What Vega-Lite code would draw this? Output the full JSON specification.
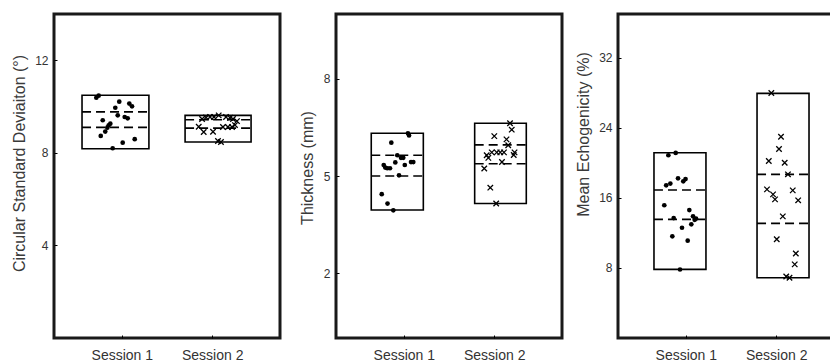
{
  "$schema": "https://vega.github.io/schema/vega-lite/v6.json",
  "background": "white",
  "padding": {"left": 9, "top": 12, "right": 0, "bottom": 6},
  "spacing": 56,
  "bounds": "flush",
  "config": {
    "view": {"stroke": "#1a1a1a", "strokeWidth": 3},
    "font": "Liberation Sans",
    "axis": {"grid": false, "domain": false, "tickColor": "#000", "tickSize": -3, "labelFont": "Liberation Sans", "labelColor": "#333", "titleFont": "Liberation Sans", "titleFontWeight": "normal", "titleColor": "#3a3a3a"}
  },
  "datasets": {
    "boxes": [
      {"p": 1, "x": 0.56, "x2": 1.30, "y": 8.18, "y2": 10.49},
      {"p": 1, "x": 1.70, "x2": 2.43, "y": 8.47, "y2": 9.62},
      {"p": 2, "x": 0.64, "x2": 1.216, "y": 3.95, "y2": 6.32},
      {"p": 2, "x": 1.784, "x2": 2.355, "y": 4.15, "y2": 6.63},
      {"p": 3, "x": 0.648, "x2": 1.223, "y": 7.84, "y2": 21.15},
      {"p": 3, "x": 1.788, "x2": 2.363, "y": 6.88, "y2": 27.93}
    ],
    "lines": [
      {"p": 1, "x": 0.56, "x2": 1.30, "y": 9.77},
      {"p": 1, "x": 0.56, "x2": 1.30, "y": 9.10},
      {"p": 1, "x": 1.70, "x2": 2.43, "y": 9.43},
      {"p": 1, "x": 1.70, "x2": 2.43, "y": 9.07},
      {"p": 2, "x": 0.64, "x2": 1.216, "y": 5.64},
      {"p": 2, "x": 0.64, "x2": 1.216, "y": 5.00},
      {"p": 2, "x": 1.784, "x2": 2.355, "y": 5.96},
      {"p": 2, "x": 1.784, "x2": 2.355, "y": 5.38},
      {"p": 3, "x": 0.648, "x2": 1.223, "y": 16.9},
      {"p": 3, "x": 0.648, "x2": 1.223, "y": 13.55},
      {"p": 3, "x": 1.788, "x2": 2.363, "y": 18.69},
      {"p": 3, "x": 1.788, "x2": 2.363, "y": 13.09}
    ],
    "points": [
      {"p": 1, "s": 1, "x": 0.718, "y": 10.38},
      {"p": 1, "s": 1, "x": 0.744, "y": 10.47},
      {"p": 1, "s": 1, "x": 0.972, "y": 10.21},
      {"p": 1, "s": 1, "x": 1.083, "y": 10.13},
      {"p": 1, "s": 1, "x": 1.113, "y": 10.01},
      {"p": 1, "s": 1, "x": 0.928, "y": 9.95},
      {"p": 1, "s": 1, "x": 0.955, "y": 9.62},
      {"p": 1, "s": 1, "x": 1.032, "y": 9.55},
      {"p": 1, "s": 1, "x": 1.065, "y": 9.49},
      {"p": 1, "s": 1, "x": 0.789, "y": 9.41},
      {"p": 1, "s": 1, "x": 0.873, "y": 9.26},
      {"p": 1, "s": 1, "x": 0.855, "y": 9.19},
      {"p": 1, "s": 1, "x": 0.840, "y": 9.09},
      {"p": 1, "s": 1, "x": 0.817, "y": 8.92},
      {"p": 1, "s": 1, "x": 0.767, "y": 8.73},
      {"p": 1, "s": 1, "x": 1.143, "y": 8.59},
      {"p": 1, "s": 1, "x": 1.010, "y": 8.44},
      {"p": 1, "s": 1, "x": 0.899, "y": 8.20},
      {"p": 1, "s": 2, "x": 1.851, "y": 9.13},
      {"p": 1, "s": 2, "x": 1.906, "y": 8.90},
      {"p": 1, "s": 2, "x": 2.009, "y": 8.91},
      {"p": 1, "s": 2, "x": 1.888, "y": 9.46},
      {"p": 1, "s": 2, "x": 1.932, "y": 9.53},
      {"p": 1, "s": 2, "x": 1.976, "y": 9.55},
      {"p": 1, "s": 2, "x": 2.020, "y": 9.55},
      {"p": 1, "s": 2, "x": 2.072, "y": 9.62},
      {"p": 1, "s": 2, "x": 2.153, "y": 9.55},
      {"p": 1, "s": 2, "x": 2.197, "y": 9.52},
      {"p": 1, "s": 2, "x": 2.230, "y": 9.46},
      {"p": 1, "s": 2, "x": 2.274, "y": 9.37},
      {"p": 1, "s": 2, "x": 2.119, "y": 9.12},
      {"p": 1, "s": 2, "x": 2.174, "y": 9.12},
      {"p": 1, "s": 2, "x": 2.219, "y": 9.12},
      {"p": 1, "s": 2, "x": 2.252, "y": 9.20},
      {"p": 1, "s": 2, "x": 2.064, "y": 8.51},
      {"p": 1, "s": 2, "x": 2.097, "y": 8.47},
      {"p": 2, "s": 1, "x": 1.046, "y": 6.32},
      {"p": 2, "s": 1, "x": 1.058, "y": 6.25},
      {"p": 2, "s": 1, "x": 0.862, "y": 6.03},
      {"p": 2, "s": 1, "x": 0.928, "y": 5.64},
      {"p": 2, "s": 1, "x": 0.969, "y": 5.56},
      {"p": 2, "s": 1, "x": 0.994, "y": 5.56},
      {"p": 2, "s": 1, "x": 0.778, "y": 5.34},
      {"p": 2, "s": 1, "x": 0.795, "y": 5.26},
      {"p": 2, "s": 1, "x": 0.817, "y": 5.24},
      {"p": 2, "s": 1, "x": 0.847, "y": 5.24},
      {"p": 2, "s": 1, "x": 0.906, "y": 5.42},
      {"p": 2, "s": 1, "x": 1.011, "y": 5.34},
      {"p": 2, "s": 1, "x": 1.080, "y": 5.43},
      {"p": 2, "s": 1, "x": 1.105, "y": 5.43},
      {"p": 2, "s": 1, "x": 0.947, "y": 5.02},
      {"p": 2, "s": 1, "x": 0.756, "y": 4.44},
      {"p": 2, "s": 1, "x": 0.820, "y": 4.15},
      {"p": 2, "s": 1, "x": 0.884, "y": 3.94},
      {"p": 2, "s": 2, "x": 2.175, "y": 6.63},
      {"p": 2, "s": 2, "x": 2.194, "y": 6.43},
      {"p": 2, "s": 2, "x": 2.001, "y": 6.23},
      {"p": 2, "s": 2, "x": 2.136, "y": 6.13},
      {"p": 2, "s": 2, "x": 2.155, "y": 5.95},
      {"p": 2, "s": 2, "x": 1.917, "y": 5.64},
      {"p": 2, "s": 2, "x": 1.935, "y": 5.56},
      {"p": 2, "s": 2, "x": 1.973, "y": 5.73},
      {"p": 2, "s": 2, "x": 2.028, "y": 5.73},
      {"p": 2, "s": 2, "x": 2.067, "y": 5.73},
      {"p": 2, "s": 2, "x": 2.108, "y": 5.73},
      {"p": 2, "s": 2, "x": 2.225, "y": 5.73},
      {"p": 2, "s": 2, "x": 2.216, "y": 5.65},
      {"p": 2, "s": 2, "x": 2.086, "y": 5.43},
      {"p": 2, "s": 2, "x": 1.890, "y": 5.23},
      {"p": 2, "s": 2, "x": 1.957, "y": 4.64},
      {"p": 2, "s": 2, "x": 2.022, "y": 4.15},
      {"p": 3, "s": 1, "x": 0.807, "y": 20.87},
      {"p": 3, "s": 1, "x": 0.888, "y": 21.14},
      {"p": 3, "s": 1, "x": 0.783, "y": 17.43},
      {"p": 3, "s": 1, "x": 0.829, "y": 17.64},
      {"p": 3, "s": 1, "x": 0.914, "y": 18.23},
      {"p": 3, "s": 1, "x": 0.972, "y": 17.89},
      {"p": 3, "s": 1, "x": 0.997, "y": 18.15},
      {"p": 3, "s": 1, "x": 0.762, "y": 15.16},
      {"p": 3, "s": 1, "x": 1.039, "y": 14.61},
      {"p": 3, "s": 1, "x": 0.866, "y": 13.70},
      {"p": 3, "s": 1, "x": 1.080, "y": 13.89},
      {"p": 3, "s": 1, "x": 1.098, "y": 13.50},
      {"p": 3, "s": 1, "x": 1.113, "y": 13.64},
      {"p": 3, "s": 1, "x": 1.061, "y": 12.98},
      {"p": 3, "s": 1, "x": 0.958, "y": 12.59},
      {"p": 3, "s": 1, "x": 0.851, "y": 11.61},
      {"p": 3, "s": 1, "x": 1.021, "y": 11.11},
      {"p": 3, "s": 1, "x": 0.936, "y": 7.82},
      {"p": 3, "s": 2, "x": 1.946, "y": 27.97},
      {"p": 3, "s": 2, "x": 2.053, "y": 22.98},
      {"p": 3, "s": 2, "x": 2.031, "y": 21.58},
      {"p": 3, "s": 2, "x": 1.918, "y": 20.21},
      {"p": 3, "s": 2, "x": 2.094, "y": 20.01},
      {"p": 3, "s": 2, "x": 2.130, "y": 18.69},
      {"p": 3, "s": 2, "x": 1.898, "y": 16.97},
      {"p": 3, "s": 2, "x": 1.965, "y": 16.40},
      {"p": 3, "s": 2, "x": 1.987, "y": 15.83},
      {"p": 3, "s": 2, "x": 2.183, "y": 16.86},
      {"p": 3, "s": 2, "x": 2.243, "y": 15.72},
      {"p": 3, "s": 2, "x": 2.073, "y": 13.89},
      {"p": 3, "s": 2, "x": 2.006, "y": 11.27},
      {"p": 3, "s": 2, "x": 2.217, "y": 9.65},
      {"p": 3, "s": 2, "x": 2.205, "y": 8.41},
      {"p": 3, "s": 2, "x": 2.111, "y": 7.02},
      {"p": 3, "s": 2, "x": 2.147, "y": 6.88}
    ]
  },
  "hconcat": [
    {
      "width": 226, "height": 324,
      "layer": [
        {
          "data": {"name": "boxes"},
          "transform": [{"filter": "datum.p == 1"}],
          "mark": {"type": "rect", "fillOpacity": 0, "stroke": "black", "strokeWidth": 1.6},
          "encoding": {
            "x": {"field": "x", "type": "quantitative", "scale": {"domain": [0.25, 2.75], "nice": false, "zero": false}, "axis": {"values": [1, 2], "labelExpr": "datum.value == 1 ? 'Session 1' : 'Session 2'", "title": null, "labelFontSize": 14, "labelPadding": 13}},
            "x2": {"field": "x2"},
            "y": {"field": "y", "type": "quantitative", "scale": {"domain": [0, 14], "nice": false, "zero": false}, "axis": {"values": [4, 8, 12], "title": "Circular Standard Deviaiton (°)", "titleFontSize": 16, "labelFontSize": 12, "labelPadding": 9, "titleX": -35, "titleY": 149, "titleBaseline": "middle"}},
            "y2": {"field": "y2"}
          }
        },
        {
          "data": {"name": "lines"},
          "transform": [{"filter": "datum.p == 1"}],
          "mark": {"type": "rule", "color": "black", "strokeWidth": 1.6, "strokeDash": [9, 5]},
          "encoding": {
            "x": {"field": "x", "type": "quantitative"},
            "x2": {"field": "x2"},
            "y": {"field": "y", "type": "quantitative"}
          }
        },
        {
          "data": {"name": "points"},
          "transform": [{"filter": "datum.p == 1 && datum.s == 1"}],
          "mark": {"type": "point", "shape": "circle", "filled": true, "size": 22, "color": "black", "opacity": 1},
          "encoding": {
            "x": {"field": "x", "type": "quantitative"},
            "y": {"field": "y", "type": "quantitative"}
          }
        },
        {
          "data": {"name": "points"},
          "transform": [{"filter": "datum.p == 1 && datum.s == 2"}],
          "mark": {"type": "point", "shape": "M-1,-1L1,1M-1,1L1,-1", "filled": false, "size": 30, "color": "black", "strokeWidth": 1.3, "opacity": 1},
          "encoding": {
            "x": {"field": "x", "type": "quantitative"},
            "y": {"field": "y", "type": "quantitative"}
          }
        }
      ]
    },
    {
      "width": 226, "height": 324,
      "layer": [
        {
          "data": {"name": "boxes"},
          "transform": [{"filter": "datum.p == 2"}],
          "mark": {"type": "rect", "fillOpacity": 0, "stroke": "black", "strokeWidth": 1.6},
          "encoding": {
            "x": {"field": "x", "type": "quantitative", "scale": {"domain": [0.25, 2.75], "nice": false, "zero": false}, "axis": {"values": [1, 2], "labelExpr": "datum.value == 1 ? 'Session 1' : 'Session 2'", "title": null, "labelFontSize": 14, "labelPadding": 13}},
            "x2": {"field": "x2"},
            "y": {"field": "y", "type": "quantitative", "scale": {"domain": [0, 10], "nice": false, "zero": false}, "axis": {"values": [2, 5, 8], "title": "Thickness (mm)", "titleFontSize": 16, "labelFontSize": 12, "labelPadding": 9, "titleX": -28.5, "titleY": 153.5, "titleBaseline": "middle"}},
            "y2": {"field": "y2"}
          }
        },
        {
          "data": {"name": "lines"},
          "transform": [{"filter": "datum.p == 2"}],
          "mark": {"type": "rule", "color": "black", "strokeWidth": 1.6, "strokeDash": [9, 5]},
          "encoding": {
            "x": {"field": "x", "type": "quantitative"},
            "x2": {"field": "x2"},
            "y": {"field": "y", "type": "quantitative"}
          }
        },
        {
          "data": {"name": "points"},
          "transform": [{"filter": "datum.p == 2 && datum.s == 1"}],
          "mark": {"type": "point", "shape": "circle", "filled": true, "size": 22, "color": "black", "opacity": 1},
          "encoding": {
            "x": {"field": "x", "type": "quantitative"},
            "y": {"field": "y", "type": "quantitative"}
          }
        },
        {
          "data": {"name": "points"},
          "transform": [{"filter": "datum.p == 2 && datum.s == 2"}],
          "mark": {"type": "point", "shape": "M-1,-1L1,1M-1,1L1,-1", "filled": false, "size": 30, "color": "black", "strokeWidth": 1.3, "opacity": 1},
          "encoding": {
            "x": {"field": "x", "type": "quantitative"},
            "y": {"field": "y", "type": "quantitative"}
          }
        }
      ]
    },
    {
      "width": 226, "height": 324,
      "layer": [
        {
          "data": {"name": "boxes"},
          "transform": [{"filter": "datum.p == 3"}],
          "mark": {"type": "rect", "fillOpacity": 0, "stroke": "black", "strokeWidth": 1.6},
          "encoding": {
            "x": {"field": "x", "type": "quantitative", "scale": {"domain": [0.25, 2.75], "nice": false, "zero": false}, "axis": {"values": [1, 2], "labelExpr": "datum.value == 1 ? 'Session 1' : 'Session 2'", "title": null, "labelFontSize": 14, "labelPadding": 13}},
            "x2": {"field": "x2"},
            "y": {"field": "y", "type": "quantitative", "scale": {"domain": [0, 37], "nice": false, "zero": false}, "axis": {"values": [8, 16, 24, 32], "title": "Mean Echogenicity (%)", "titleFontSize": 16, "labelFontSize": 12, "labelPadding": 9, "titleX": -34.5, "titleY": 120, "titleBaseline": "middle"}},
            "y2": {"field": "y2"}
          }
        },
        {
          "data": {"name": "lines"},
          "transform": [{"filter": "datum.p == 3"}],
          "mark": {"type": "rule", "color": "black", "strokeWidth": 1.6, "strokeDash": [9, 5]},
          "encoding": {
            "x": {"field": "x", "type": "quantitative"},
            "x2": {"field": "x2"},
            "y": {"field": "y", "type": "quantitative"}
          }
        },
        {
          "data": {"name": "points"},
          "transform": [{"filter": "datum.p == 3 && datum.s == 1"}],
          "mark": {"type": "point", "shape": "circle", "filled": true, "size": 22, "color": "black", "opacity": 1},
          "encoding": {
            "x": {"field": "x", "type": "quantitative"},
            "y": {"field": "y", "type": "quantitative"}
          }
        },
        {
          "data": {"name": "points"},
          "transform": [{"filter": "datum.p == 3 && datum.s == 2"}],
          "mark": {"type": "point", "shape": "M-1,-1L1,1M-1,1L1,-1", "filled": false, "size": 30, "color": "black", "strokeWidth": 1.3, "opacity": 1},
          "encoding": {
            "x": {"field": "x", "type": "quantitative"},
            "y": {"field": "y", "type": "quantitative"}
          }
        }
      ]
    }
  ]
}
